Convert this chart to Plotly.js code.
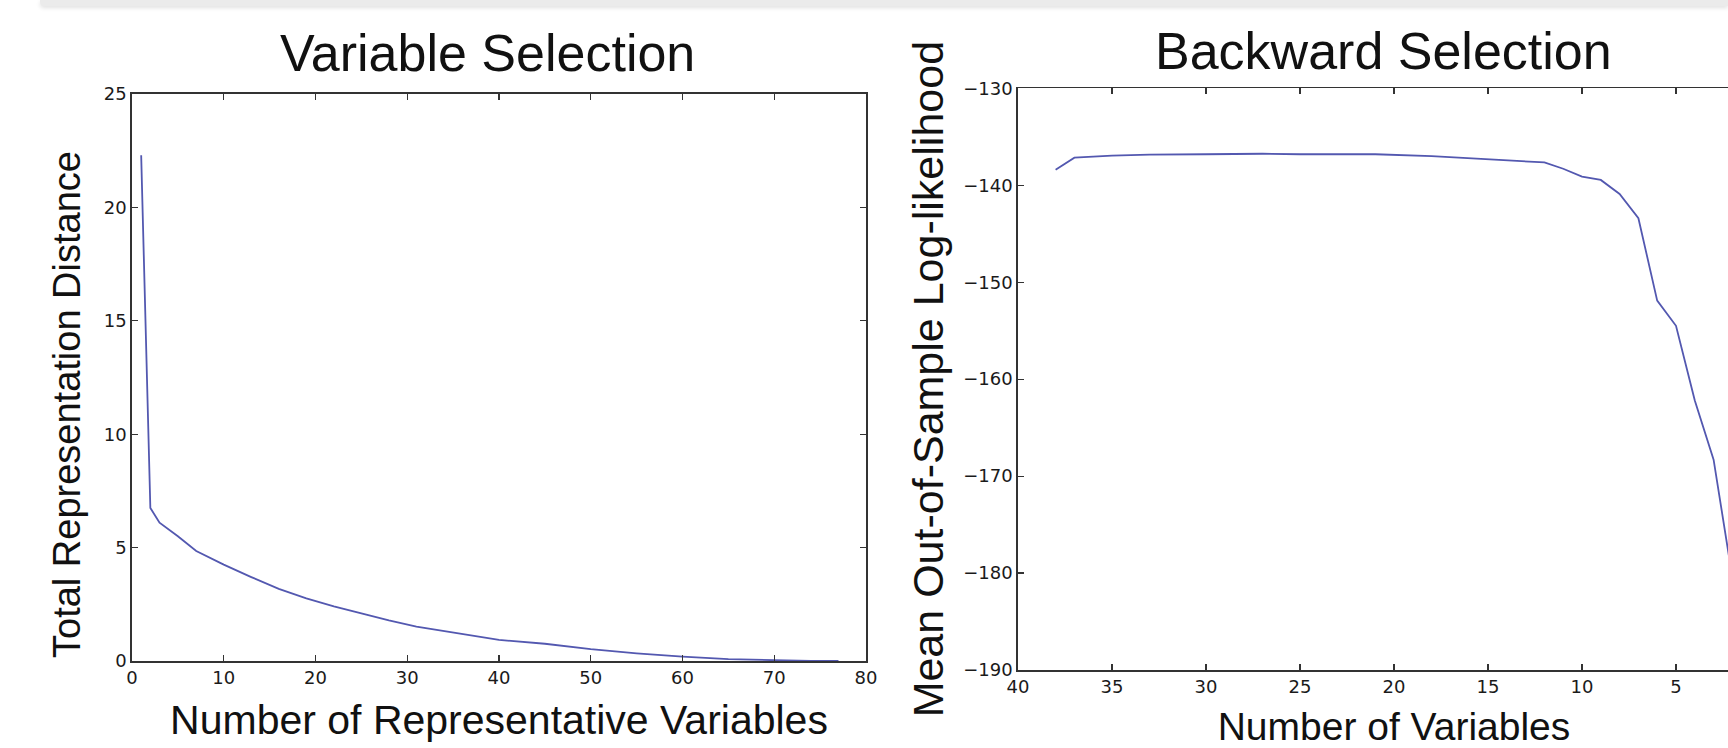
<!DOCTYPE html>
<html>
<head>
<meta charset="utf-8">
<script src="https://cdn.plot.ly/plotly-3.0.1.min.js"></script>
<style>
  html, body { margin: 0; padding: 0; background: #ffffff; overflow: hidden; width: 1728px; height: 748px; }
  #topbar { position: absolute; top: 0; left: 40px; right: 0; height: 6px; background: #ebebeb;
            border-bottom-left-radius: 4px; box-shadow: 0 2px 4px rgba(0,0,0,0.12); z-index: 5; }
  #chart { position: absolute; top: 0; left: 0; width: 1800px; height: 748px; }
</style>
</head>
<body>
<div id="topbar"></div>
<div id="chart"></div>
<script>
// ---- Data: Variable Selection ----
const repVars = [1, 2, 3, 5, 7, 10, 13, 16, 19, 22, 25, 28, 31, 35, 40, 45, 50, 55, 60, 65, 70, 74, 77];
const repDistance = [22.3, 6.75, 6.1, 5.5, 4.85, 4.25, 3.7, 3.18, 2.76, 2.41, 2.1, 1.79, 1.52, 1.25, 0.93, 0.76, 0.52, 0.34, 0.19, 0.08, 0.02, 0.0, 0.0];

// ---- Data: Backward Selection ----
const numVars = [38, 37, 35, 33, 30, 27, 25, 21, 18, 15, 12, 11, 10, 9, 8, 7, 6, 5, 4, 3, 2];
const logLik = [-138.4, -137.15, -136.95, -136.85, -136.8, -136.75, -136.8, -136.8, -137.0, -137.3, -137.65, -138.3, -139.1, -139.45, -140.9, -143.4, -151.9, -154.5, -162.2, -168.3, -180.5];

// ---- Tick labels ----
const leftXTicks = [0, 10, 20, 30, 40, 50, 60, 70, 80];
const leftYTicks = [0, 5, 10, 15, 20, 25];
const rightXTicks = [40, 35, 30, 25, 20, 15, 10, 5];
const rightYTicks = [-190, -180, -170, -160, -150, -140, -130];

const titles = {
  left: 'Variable Selection',
  right: 'Backward Selection',
  leftX: 'Number of Representative Variables',
  leftY: 'Total Representation Distance',
  rightX: 'Number of Variables',
  rightY: 'Mean Out-of-Sample Log-likelihood'
};

const W = 1800, H = 748;
const lineColor = '#5358b0';
const axisColor = '#333333';
const tickFont = { family: 'DejaVu Sans', size: 18, color: '#1a1a1a' };
const titleFamily = 'Liberation Sans, Arial, sans-serif';

function axisBase(extra) {
  return Object.assign({
    showline: true, linecolor: axisColor, linewidth: 1.8, mirror: 'allticks',
    ticks: 'inside', ticklen: 6, tickwidth: 1.2, tickcolor: axisColor,
    showgrid: false, zeroline: false, tickfont: tickFont, fixedrange: true,
    tickmode: 'array'
  }, extra);
}

const traces = [
  { x: repVars, y: repDistance, xaxis: 'x', yaxis: 'y', type: 'scatter', mode: 'lines',
    line: { color: lineColor, width: 1.8 }, hoverinfo: 'skip' },
  { x: numVars, y: logLik, xaxis: 'x2', yaxis: 'y2', type: 'scatter', mode: 'lines',
    line: { color: lineColor, width: 1.8 }, hoverinfo: 'skip' }
];

const layout = {
  width: W, height: H,
  margin: { l: 0, r: 0, t: 0, b: 0 },
  paper_bgcolor: '#ffffff', plot_bgcolor: '#ffffff',
  showlegend: false,
  xaxis: axisBase({
    domain: [132 / W, 866 / W], range: [0, 80], anchor: 'y',
    tickvals: leftXTicks, ticktext: leftXTicks.map(String),
    title: { text: titles.leftX, font: { family: titleFamily, size: 41, color: '#111' }, standoff: 18 }
  }),
  yaxis: axisBase({
    domain: [(H - 661) / H, (H - 94) / H], range: [0, 25], anchor: 'x',
    tickvals: leftYTicks, ticktext: leftYTicks.map(String)
  }),
  xaxis2: axisBase({
    domain: [1018 / W, 1770 / W], range: [40, 0], anchor: 'y2',
    tickvals: rightXTicks, ticktext: rightXTicks.map(String),
    title: { text: titles.rightX, font: { family: titleFamily, size: 39, color: '#111' }, standoff: 18 }
  }),
  yaxis2: axisBase({
    domain: [(H - 670) / H, (H - 88.3) / H], range: [-190, -130], anchor: 'x2',
    tickvals: rightYTicks, ticktext: rightYTicks.map(v => '\u2212' + Math.abs(v)),
    title: { text: titles.rightY, font: { family: titleFamily, size: 43, color: '#111' }, standoff: 6 }
  }),
  annotations: [
    { text: titles.left, xref: 'paper', yref: 'paper', x: 487 / W, y: (H - 84) / H,
      xanchor: 'center', yanchor: 'bottom', showarrow: false,
      font: { family: titleFamily, size: 52, color: '#111' } },
    { text: titles.right, xref: 'paper', yref: 'paper', x: 1383 / W, y: (H - 82) / H,
      xanchor: 'center', yanchor: 'bottom', showarrow: false,
      font: { family: titleFamily, size: 52, color: '#111' } },
    { text: titles.leftY, xref: 'paper', yref: 'paper', x: 67 / W, y: (H - 405) / H,
      xanchor: 'center', yanchor: 'middle', textangle: -90, showarrow: false,
      font: { family: titleFamily, size: 38, color: '#111' } }
  ]
};

Plotly.newPlot('chart', traces, layout, { displayModeBar: false, staticPlot: true });
</script>
</body>
</html>
